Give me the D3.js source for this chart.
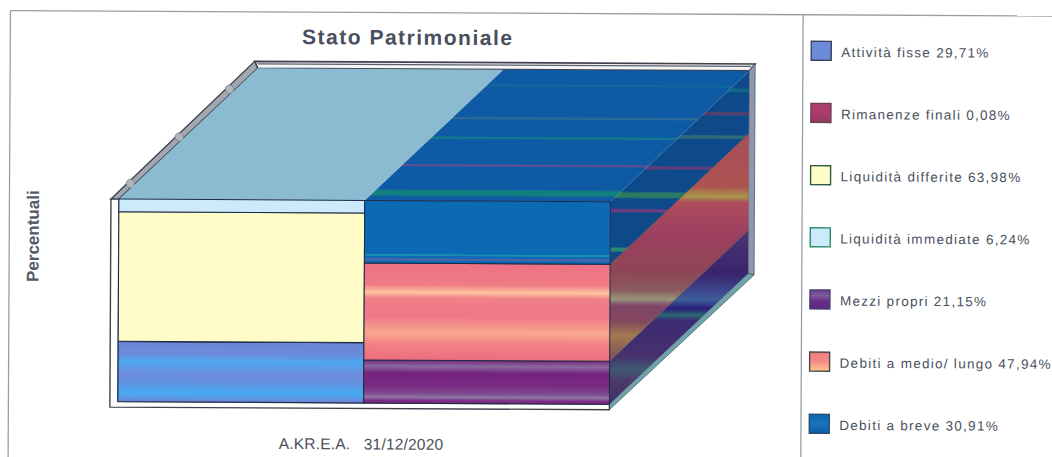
<!DOCTYPE html>
<html>
<head>
<meta charset="utf-8">
<title>Stato Patrimoniale</title>
<script src="https://cdn.jsdelivr.net/npm/d3@7"></script>
<style>
  html, body { margin: 0; padding: 0; background: #fff; overflow: hidden; }
  text { font-family: "Liberation Sans", Arial, sans-serif; white-space: pre; }
</style>
</head>
<body>
<div id="chart"></div>
<script>
const columns = ["Attivita", "Passivita"];

const assetNames = ["Attività fisse", "Rimanenze finali", "Liquidità differite", "Liquidità immediate"];
const assetValues = [29.71, 0.08, 63.98, 6.24];
const liabilityNames = ["Mezzi propri", "Debiti a medio/ lungo", "Debiti a breve"];
const liabilityValues = [21.15, 47.94, 30.91];

const chartTitle = "Stato Patrimoniale";
const yTitle = "Percentuali";
const xTitle = "A.KR.E.A.   31/12/2020";

const width = 1052, height = 457;
const depth = {x: 138, y: 131.5};

const svg = d3.select("#chart").append("svg")
  .attr("width", width)
  .attr("height", height);

const defs = svg.append("defs");

// vertical gradient, either per shape or in page coordinates
function gradient(id, stops, userY) {
  const g = defs.append("linearGradient").attr("id", id)
    .attr("x1", 0).attr("x2", 0).attr("y1", 0).attr("y2", 1);
  if (userY) {
    g.attr("gradientUnits", "userSpaceOnUse")
      .attr("y1", userY[0]).attr("y2", userY[1]);
  }
  g.selectAll("stop").data(stops).join("stop")
    .attr("offset", d => d[0])
    .attr("stop-color", d => d[1]);
}

// base colour with thin lines laid over it: [position, half width, colour]
function striped(base, lines) {
  const stops = [[0, base]];
  lines.forEach(([p, w, c]) => {
    stops.push([p - w, base], [p - w / 2, c], [p + w / 2, c], [p + w, base]);
  });
  stops.push([1, base]);
  return stops;
}

gradient("front-fisse", [[0, "#6b84d6"], [0.2, "#6c8adb"], [0.33, "#4ea8f0"], [0.42, "#5c9be6"], [0.55, "#6d8cdc"],
  [0.7, "#6093e2"], [0.84, "#45aaf2"], [0.93, "#5b9ae6"], [1, "#6b7fd0"]]);
gradient("front-rimanenze", [[0, "#a8406a"], [1, "#a8406a"]]);
gradient("front-mezzi", [[0, "#7a2a7e"], [0.14, "#8a6a9e"], [0.3, "#74227c"], [0.6, "#7a2c84"], [0.78, "#7f4c90"],
  [0.86, "#8f78a4"], [0.94, "#7c2c84"], [1, "#7a2a7e"]]);
gradient("front-medio", [[0, "#ee7284"], [0.22, "#f07a86"], [0.3, "#fcc59e"], [0.36, "#f08088"], [0.55, "#ee7888"],
  [0.72, "#f9a88e"], [0.82, "#f28486"], [1, "#ec6c7e"]]);
gradient("front-breve", striped("#0c69b4", [[0.87, 0.02, "#1a8eb0"], [0.94, 0.025, "#4a66a8"]]));

gradient("top-right", striped("#0f5aa4", [[0.12, 0.012, "#1166a0"], [0.37, 0.012, "#2a6a98"], [0.52, 0.012, "#14788e"],
  [0.73, 0.012, "#584f98"], [0.94, 0.03, "#12807f"]]));
gradient("side-breve", striped("#0e4a8a", [[0.1, 0.012, "#0d6a80"], [0.22, 0.012, "#54406e"], [0.34, 0.012, "#2f6a78"],
  [0.5, 0.012, "#5a3e7e"], [0.64, 0.02, "#2a7a64"], [0.72, 0.012, "#6a3e80"], [0.92, 0.014, "#2a8a70"]]), [67, 262]);
gradient("side-medio", [[0, "#a84e58"], [0.22, "#ac5452"], [0.265, "#a89848"], [0.29, "#ac4c5c"], [0.44, "#9c3f60"],
  [0.6, "#8e4656"], [0.68, "#8a5a5e"], [0.72, "#989478"], [0.75, "#7f4468"], [0.82, "#84485e"], [0.88, "#a07a50"], [1, "#7c4a58"]],
  [133, 359]);
gradient("side-mezzi", [[0, "#473470"], [0.22, "#38246e"], [0.33, "#3e4c90"], [0.37, "#3c6098"], [0.42, "#2c1c7c"],
  [0.46, "#2a6a72"], [0.49, "#3c2a72"], [0.7, "#46306e"], [0.78, "#3e5a74"], [0.84, "#4c3c6e"], [1, "#3c2c60"]], [233, 404]);
gradient("legend-fisse", [[0, "#6a8cd8"], [1, "#6a8cd8"]]);
gradient("legend-rimanenze", [[0, "#a8406a"], [0.5, "#b03a6e"], [1, "#8e3c60"]]);
gradient("legend-mezzi", [[0, "#6a3c8e"], [0.3, "#7c5c98"], [0.6, "#6a2a8c"], [1, "#5e2a80"]]);
gradient("legend-medio", [[0, "#f27c84"], [0.5, "#f48a84"], [1, "#fcc98e"]]);
gradient("legend-breve", [[0, "#0f65b2"], [0.5, "#1a74ba"], [1, "#0d5ca8"]]);

const assetFills = ["url(#front-fisse)", "url(#front-rimanenze)", "#fffcc8", "#cdeafc"];
const liabilityFills = ["url(#front-mezzi)", "url(#front-medio)", "url(#front-breve)"];
const liabilitySides = ["url(#side-mezzi)", "url(#side-medio)", "url(#side-breve)"];

const x = d3.scaleBand().domain(columns).range([120, 611.5]);
const y = d3.scaleLinear().domain([0, 100]).range([401, 198.5]);

// the whole sheet sits very slightly rotated
const root = svg.append("g").attr("transform", "rotate(0.3)");

function stackUp(values, names, fills) {
  const tops = d3.cumsum(values);
  return values.map((v, i) => ({name: names[i], value: v, y0: tops[i] - v, y1: tops[i], fill: fills[i]}));
}
const assets = stackUp(assetValues, assetNames, assetFills);
const liabilities = stackUp(liabilityValues, liabilityNames, liabilityFills);

const poly = pts => pts.map(p => p.join(",")).join(" ");
const back = (px, py) => [px + depth.x, py - depth.y];

const frameLeft = x.range()[0] - 8;
const frameRight = x.range()[1] + depth.x + 6;
const frameBottom = y(0) + 5.5;
const frameTop = y(100) - depth.y - 7;
const backLeft = x.range()[0] + depth.x;
const backRight = x.range()[1] + depth.x;
const backBottom = y(0) - depth.y;

const frame = root.append("g");
const edge = "#3d414c";

// rear wall rim
frame.append("polygon")
  .attr("points", poly([[backLeft - 3, frameTop], [frameRight, frameTop], [backRight, y(100) - depth.y], [backLeft, y(100) - depth.y]]))
  .attr("fill", "#f4f5f6").attr("stroke", edge).attr("stroke-width", 1.6);
frame.append("line")
  .attr("x1", backLeft).attr("x2", frameRight - 4)
  .attr("y1", frameTop + 2.5).attr("y2", frameTop + 2.5)
  .attr("stroke", "#5c5f6a").attr("stroke-width", 1.2);

// sloped wall on the left with its three knobs
frame.append("polygon")
  .attr("points", poly([[frameLeft, y(100)], [backLeft - 3, frameTop], [backLeft, y(100) - depth.y], [x.range()[0], y(100)]]))
  .attr("fill", "#a2a8b2").attr("stroke", edge).attr("stroke-width", 1.4);
frame.selectAll("circle.knob").data([0.11, 0.46, 0.82]).join("circle")
  .attr("class", "knob")
  .attr("cx", t => frameLeft + 4 + t * (depth.x + 1))
  .attr("cy", t => y(100) - 1 - t * (depth.y + 2))
  .attr("r", 4.2)
  .attr("fill", "#b0b6bc")
  .attr("stroke", "#6d7780").attr("stroke-width", 0.7);

// right rim and the sloped floor edge
frame.append("polygon")
  .attr("points", poly([[backRight, y(100) - depth.y], [frameRight, frameTop], [frameRight, backBottom + 1.5], [backRight, backBottom]]))
  .attr("fill", "#8d98ac").attr("stroke", "#53586a").attr("stroke-width", 0.8);
frame.append("polygon")
  .attr("points", poly([[x.range()[1], y(0)], [backRight, backBottom], [frameRight, backBottom + 1.5], [x.range()[1], frameBottom]]))
  .attr("fill", "#6fa3aa").attr("stroke", "#3f5d68").attr("stroke-width", 0.7);

// front lip of the frame
frame.append("polygon")
  .attr("points", poly([[frameLeft, y(100)], [x.range()[0], y(100)], [x.range()[0], y(0)], [x.range()[1], y(0)], [x.range()[1], frameBottom], [frameLeft, frameBottom]]))
  .attr("fill", "#fff").attr("stroke", edge).attr("stroke-width", 1.4);

// top faces
const topLeft = x(columns[0]), topMid = x(columns[1]), topEnd = x.range()[1];
root.append("polygon")
  .attr("points", poly([[topLeft, y(100)], back(topLeft, y(100)), back(topMid, y(100)), [topMid, y(100)]]))
  .attr("fill", "#8bbbd0");
root.append("polygon")
  .attr("points", poly([[topMid, y(100)], back(topMid, y(100)), back(topEnd, y(100)), [topEnd, y(100)]]))
  .attr("fill", "url(#top-right)");

// side faces of the right column
root.selectAll("polygon.side").data(liabilities).join("polygon")
  .attr("class", "side")
  .attr("points", d => poly([[topEnd, y(d.y0)], [topEnd, y(d.y1)], back(topEnd, y(d.y1)), back(topEnd, y(d.y0))]))
  .attr("fill", (d, i) => liabilitySides[i]);
root.selectAll("line.side-edge").data(liabilities.slice(1)).join("line")
  .attr("class", "side-edge")
  .attr("x1", topEnd).attr("y1", d => y(d.y0))
  .attr("x2", back(topEnd, 0)[0]).attr("y2", d => back(topEnd, y(d.y0))[1])
  .attr("stroke", "#26304a").attr("stroke-width", 0.7).attr("stroke-opacity", 0.7);

// front faces
const drawFront = (rows, col, cls) => root.selectAll("rect." + cls).data(rows).join("rect")
  .attr("class", cls)
  .attr("x", x(col))
  .attr("width", x.bandwidth())
  .attr("y", d => y(d.y1))
  .attr("height", d => y(d.y0) - y(d.y1))
  .attr("fill", d => d.fill)
  .attr("stroke", "#1d2a44")
  .attr("stroke-width", 1);
drawFront(assets, columns[0], "asset");
drawFront(liabilities, columns[1], "liability");

// titles
root.append("text")
  .attr("x", 408).attr("y", 42.5)
  .attr("text-anchor", "middle")
  .attr("font-size", 21).attr("font-weight", 700)
  .attr("letter-spacing", 1.5)
  .attr("fill", "#4a4f5e")
  .text(chartTitle);
root.append("text")
  .attr("transform", "translate(40,236) rotate(-90)")
  .attr("text-anchor", "middle")
  .attr("font-size", 17).attr("font-weight", 700)
  .attr("fill", "#555a66")
  .text(yTitle);
root.append("text")
  .attr("x", 281).attr("y", 447.5)
  .attr("font-size", 15.5)
  .attr("letter-spacing", 0.2)
  .attr("fill", "#4c505c")
  .text(xTitle);

// sheet borders
const borders = [
  [[10.5, 10.5], [1060, 10.5]],
  [[10.5, 10.5], [10.5, 470]],
  [[803.2, 10.5], [803.2, 470]]
];
root.selectAll("path.border").data(borders).join("path")
  .attr("class", "border")
  .attr("d", d3.line())
  .attr("fill", "none")
  .attr("stroke", "#9b9da6")
  .attr("stroke-width", 1.3);

// legend
const legendNames = [assetNames[0], assetNames[1], assetNames[2], assetNames[3], liabilityNames[0], liabilityNames[1], liabilityNames[2]];
const legendValues = [assetValues[0], assetValues[1], assetValues[2], assetValues[3], liabilityValues[0], liabilityValues[1], liabilityValues[2]];
const legendFills = ["url(#legend-fisse)", "url(#legend-rimanenze)", "#fffcc8", "#cdeafc", "url(#legend-mezzi)", "url(#legend-medio)", "url(#legend-breve)"];
const legendEdges = ["#3c4258", "#6a4052", "#2f5a40", "#2c8a66", "#46406c", "#4a4a4a", "#2a4c70"];
const legendY = d3.scalePoint().domain(d3.range(legendNames.length)).range([41, 414]);
const comma = v => v.toFixed(2).replace(".", ",");

const legendRows = root.selectAll("g.legend-row").data(legendNames).join("g")
  .attr("class", "legend-row")
  .attr("transform", (d, i) => `translate(811.5,${legendY(i) - 4})`);
legendRows.append("rect")
  .attr("width", 20).attr("height", 19)
  .attr("fill", (d, i) => legendFills[i])
  .attr("stroke", (d, i) => legendEdges[i])
  .attr("stroke-width", 1.4);
legendRows.append("text")
  .attr("x", 30).attr("y", 15.5)
  .attr("font-size", 13.5)
  .attr("letter-spacing", 1.28)
  .attr("fill", "#4a4f5e")
  .text((d, i) => `${d} ${comma(legendValues[i])}%`);
</script>
</body>
</html>
